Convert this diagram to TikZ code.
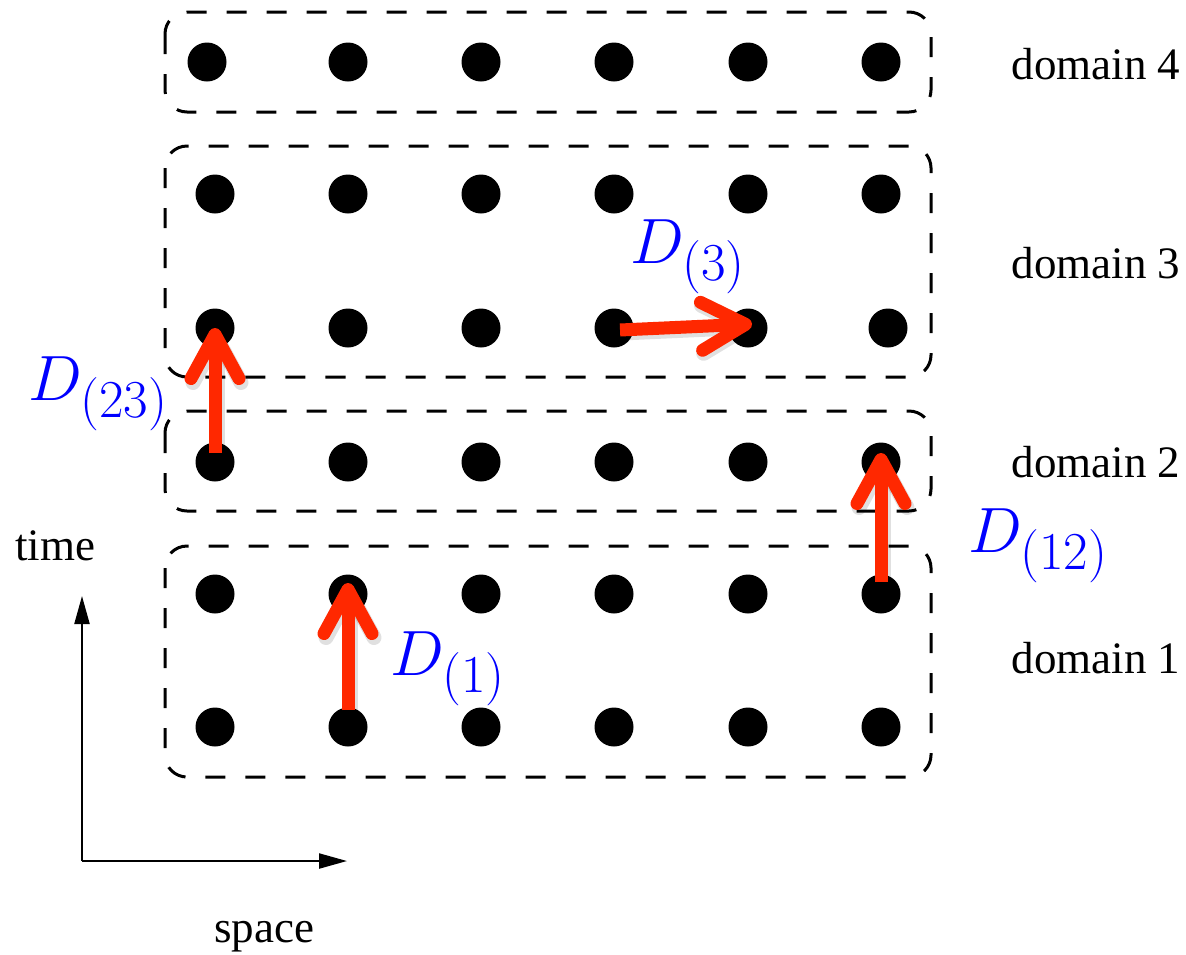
\documentclass[tikz,border=0pt]{standalone}
\usepackage[no-math]{fontspec}
\setmainfont{Liberation Serif}
\usetikzlibrary{arrows.meta}
\definecolor{arrred}{RGB}{255,40,0}
\definecolor{lblue}{RGB}{0,0,255}
\tikzset{
  dot/.style={circle,fill=black,minimum size=19.5pt,inner sep=0pt},
  dbox/.style={draw=black,line width=1.5pt,dash pattern=on 10pt off 10pt,rounded corners=11pt},
  axis/.style={line width=1.1pt,-{Triangle[length=14pt,width=7.5pt]}},
  redarr/.style={draw=arrred,line width=6.5pt,-{Straight Barb[round,length=22pt,width=24pt]}},
  redshadow/.style={draw=black,opacity=0.12,line width=7.5pt,-{Straight Barb[round,length=22pt,width=24pt]}},
  dlabel/.style={text=lblue,anchor=base west,inner sep=0pt,font=\Huge,scale=1.286,transform shape},
  domlabel/.style={anchor=base,inner sep=0pt,font=\fontsize{22.5}{27}\selectfont},
  axlabel/.style={anchor=base,inner sep=0pt,font=\fontsize{22.5}{27}\selectfont}
}
\begin{document}
\begin{tikzpicture}[x=0.5pt,y=-0.5pt]
\useasboundingbox (0,0) rectangle (1186,954);
% dashed domain boxes
\draw[dbox] (165,12) rectangle (931,112);
\draw[dbox] (165,146) rectangle (931,377);
\draw[dbox] (165,411) rectangle (931,511);
\draw[dbox] (165,546) rectangle (931,777);
% dots
\foreach \r/\y in {2/194,4/462,5/594,6/727}{
  \foreach \c/\x in {1/215,2/348,3/481,4/614,5/748,6/881}{
    \node[dot] (r\r c\c) at (\x,\y) {};
  }
}
\foreach \c/\x in {1/215,2/348,3/481,4/614,5/748,6/888}{
  \node[dot] (r3c\c) at (\x,328) {};
}
\foreach \c/\x in {1/207,2/348,3/481,4/614,5/748,6/881}{
  \node[dot] (r1c\c) at (\x,62) {};
}
% domain labels
\node[domlabel] (dom4) at (1096,79) {domain 4};
\node[domlabel] (dom3) at (1096,278) {domain 3};
\node[domlabel] (dom2) at (1096,477) {domain 2};
\node[domlabel] (dom1) at (1096,673) {domain 1};
% axes
\coordinate (O) at (82,861);
\coordinate (T) at (82,596);
\coordinate (S) at (347,861);
\draw[axis] (O) -- (T);
\draw[axis] (O) -- (S);
\node[axlabel] (time) at (55,560) {time};
\node[axlabel] (space) at (264,942) {space};
% red arrows (shadows first)
\begin{scope}[transform canvas={shift={(1pt,-1.5pt)}}]
\draw[redshadow] ([yshift=4.5pt]r4c1.center) -- (r3c1.center);
\draw[redshadow] ([yshift=8.5pt]r6c2.center) -- ([yshift=5.5pt]r5c2.center);
\draw[redshadow] ([yshift=6pt]r5c6.center) -- ([yshift=4.5pt]r4c6.center);
\draw[redshadow] ([xshift=3pt,yshift=-1pt]r3c4.center) -- ([xshift=2pt,yshift=2pt]r3c5.center);
\end{scope}
\draw[redarr] ([yshift=4.5pt]r4c1.center) -- (r3c1.center);
\draw[redarr] ([yshift=8.5pt]r6c2.center) -- ([yshift=5.5pt]r5c2.center);
\draw[redarr] ([yshift=6pt]r5c6.center) -- ([yshift=4.5pt]r4c6.center);
\draw[redarr] ([xshift=3pt,yshift=-1pt]r3c4.center) -- ([xshift=2pt,yshift=2pt]r3c5.center);
% blue labels
\node[dlabel] (l23) at (28,400) {$D_{(23)}$};
\node[dlabel] (l1) at (390,675) {$D_{(1)}$};
\node[dlabel] (l12) at (968,552) {$D_{(12)}$};
\node[dlabel] (l3) at (630,263) {$D_{(3)}$};
\end{tikzpicture}
\end{document}
